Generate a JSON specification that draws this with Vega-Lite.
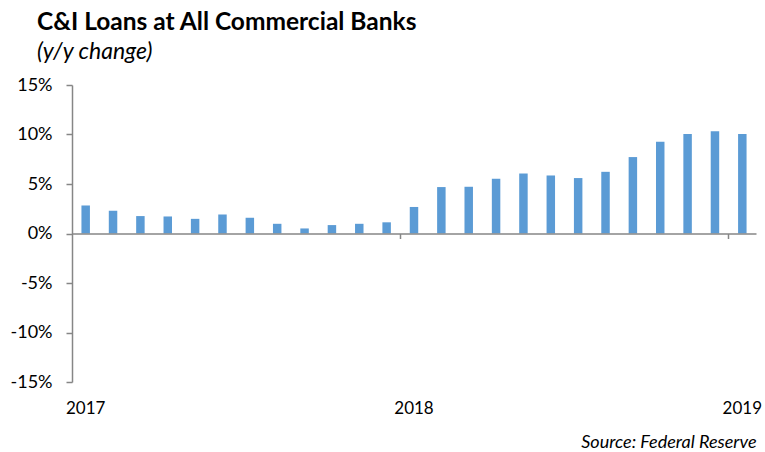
{
  "$schema": "https://vega.github.io/schema/vega-lite/v6.json",
  "width": 684,
  "height": 297,
  "autosize": "none",
  "padding": {"left": 72, "top": 85, "right": 9, "bottom": 70},
  "title": {
    "text": "C&I Loans at All Commercial Banks",
    "subtitle": "(y/y change)",
    "anchor": "start",
    "frame": "group",
    "dx": -35,
    "offset": 11,
    "font": "Lato",
    "fontSize": 24.5,
    "fontWeight": "bold",
    "color": "#000000",
    "subtitleFont": "Lato",
    "subtitleFontSize": 23,
    "subtitleFontStyle": "italic",
    "subtitleColor": "#000000",
    "subtitlePadding": 6
  },
  "config": {
    "view": {"stroke": null},
    "axis": {"labelFont": "Lato", "labelColor": "#000000", "titleFont": "Lato", "grid": false}
  },
  "data": {
    "values": [
      {"month": "2017-01", "yoy": 2.83},
      {"month": "2017-02", "yoy": 2.29},
      {"month": "2017-03", "yoy": 1.76},
      {"month": "2017-04", "yoy": 1.72},
      {"month": "2017-05", "yoy": 1.48},
      {"month": "2017-06", "yoy": 1.92},
      {"month": "2017-07", "yoy": 1.59},
      {"month": "2017-08", "yoy": 0.98},
      {"month": "2017-09", "yoy": 0.51},
      {"month": "2017-10", "yoy": 0.85},
      {"month": "2017-11", "yoy": 0.98},
      {"month": "2017-12", "yoy": 1.13},
      {"month": "2018-01", "yoy": 2.68},
      {"month": "2018-02", "yoy": 4.69},
      {"month": "2018-03", "yoy": 4.72},
      {"month": "2018-04", "yoy": 5.53},
      {"month": "2018-05", "yoy": 6.06},
      {"month": "2018-06", "yoy": 5.86},
      {"month": "2018-07", "yoy": 5.6},
      {"month": "2018-08", "yoy": 6.23},
      {"month": "2018-09", "yoy": 7.72},
      {"month": "2018-10", "yoy": 9.26},
      {"month": "2018-11", "yoy": 10.04},
      {"month": "2018-12", "yoy": 10.34},
      {"month": "2019-01", "yoy": 10.04}
    ]
  },
  "layer": [
    {
      "mark": {"type": "bar", "color": "#5B9BD5", "width": {"band": 0.31}},
      "encoding": {
        "x": {
          "field": "month",
          "type": "ordinal",
          "scale": {"paddingInner": 0, "paddingOuter": 0},
          "axis": {
            "orient": "bottom",
            "values": ["2017-01", "2018-01", "2019-01"],
            "labelExpr": "slice(datum.value, 0, 4)",
            "labelAngle": 0,
            "labelFontSize": 17,
            "labelPadding": 18,
            "domain": false,
            "ticks": false,
            "title": "Source: Federal Reserve",
            "titleAnchor": "end",
            "titleFontStyle": "italic",
            "titleFontWeight": "normal",
            "titleFontSize": 18,
            "titleColor": "#000000",
            "titlePadding": 17
          }
        },
        "y": {
          "field": "yoy",
          "type": "quantitative",
          "scale": {"domain": [-15, 15], "nice": false},
          "axis": {
            "values": [-15, -10, -5, 0, 5, 10, 15],
            "labelExpr": "datum.value + '%'",
            "labelFontSize": 18,
            "labelPadding": 14,
            "tickSize": 6,
            "tickColor": "#868686",
            "domainColor": "#868686",
            "domainWidth": 1.5,
            "tickWidth": 1.5,
            "title": null
          }
        }
      }
    },
    {
      "mark": {"type": "point", "opacity": 0},
      "encoding": {
        "x": {
          "field": "month",
          "type": "ordinal",
          "axis": {
            "orient": "bottom",
            "offset": -148.5,
            "bandPosition": 0,
            "values": ["2018-01", "2019-01"],
            "labels": false,
            "tickSize": 5,
            "tickColor": "#868686",
            "tickWidth": 1.5,
            "domainColor": "#868686",
            "domainWidth": 1.5,
            "title": null,
            "zindex": 1
          }
        },
        "y": {"datum": 0, "type": "quantitative"}
      }
    }
  ],
  "resolve": {"axis": {"x": "independent"}}
}
